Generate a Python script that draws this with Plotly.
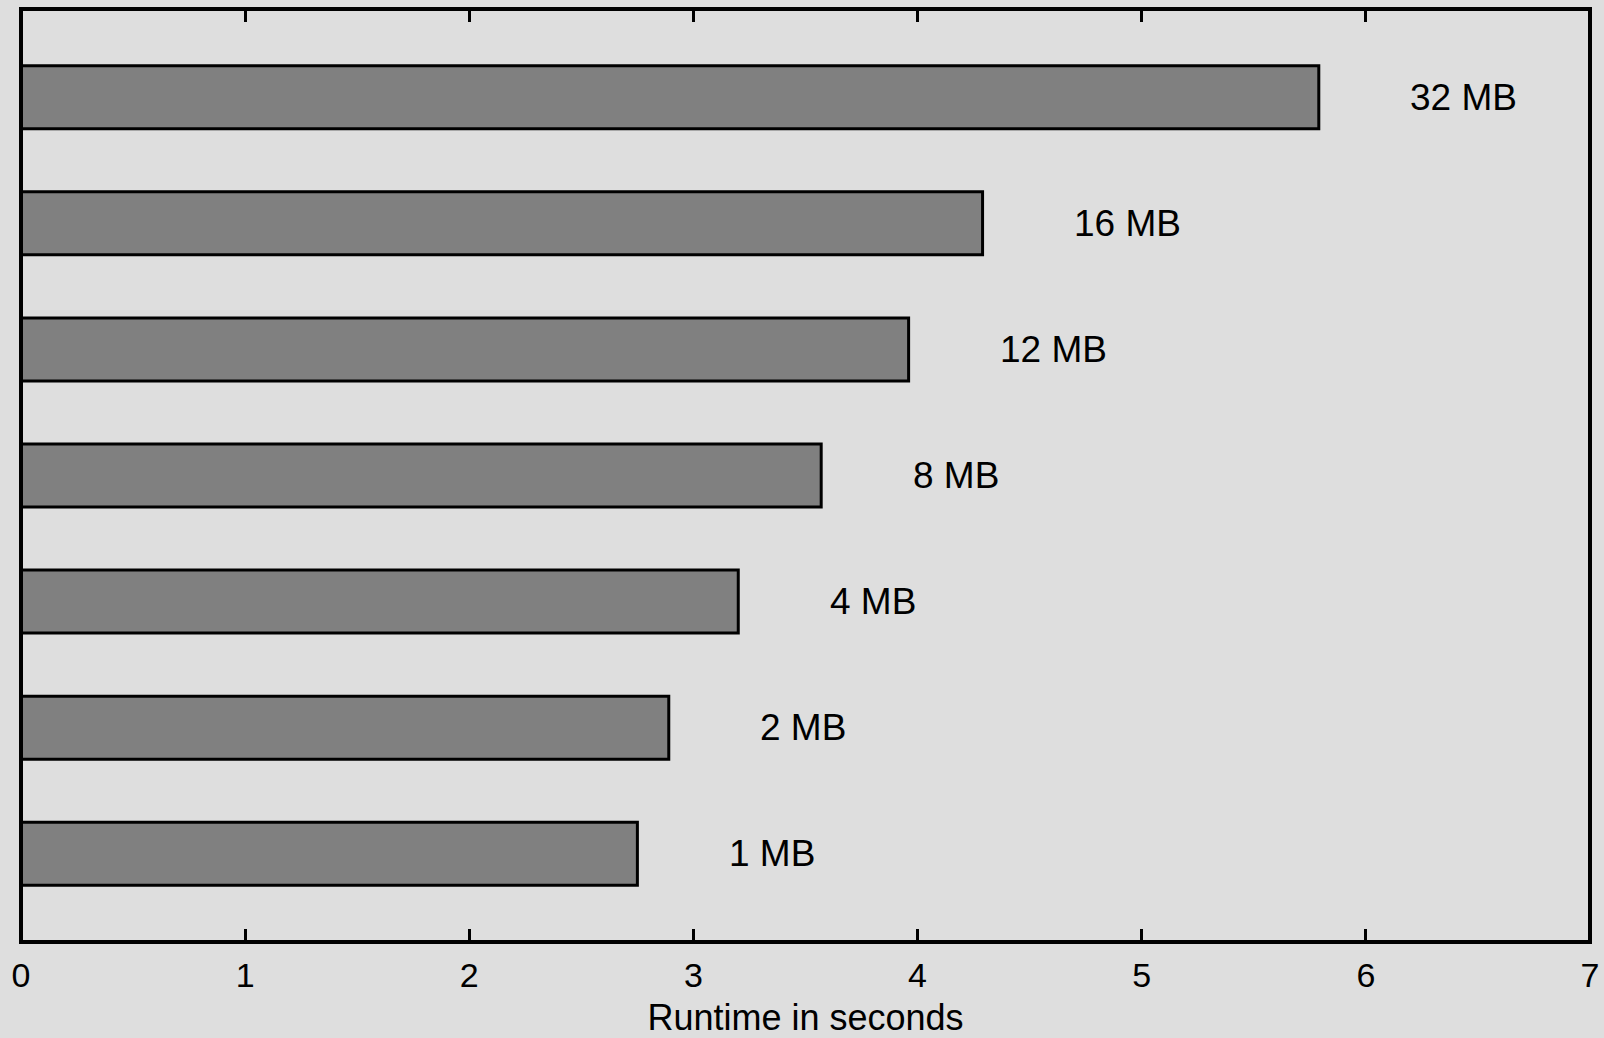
import plotly.graph_objects as go

# Cache sizes and measured runtimes
cache_sizes = ["1 MB", "2 MB", "4 MB", "8 MB", "12 MB", "16 MB", "32 MB"]
runtimes = [2.75, 2.89, 3.20, 3.57, 3.96, 4.29, 5.79]
x_ticks = [0, 1, 2, 3, 4, 5, 6, 7]

BG = "#dedede"
FONT = "Liberation Sans, Arial, sans-serif"

fig = go.Figure()
fig.add_trace(go.Bar(
    x=runtimes,
    y=cache_sizes,
    orientation="h",
    width=0.5,
    marker=dict(color="#808080", line=dict(color="black", width=3)),
    hoverinfo="x+y",
))

# value labels to the right of each bar
for size, t in zip(cache_sizes, runtimes):
    fig.add_annotation(
        x=t + 0.4, y=size, text=size, showarrow=False,
        xanchor="left", yanchor="middle",
        font=dict(family=FONT, size=37, color="black"),
    )

# axes box
fig.add_shape(type="rect", xref="paper", yref="paper", x0=0, x1=1, y0=0, y1=1,
              line=dict(color="black", width=4), layer="above")

fig.update_layout(
    width=1604, height=1038,
    margin=dict(l=21, r=14, t=9, b=96),
    paper_bgcolor=BG, plot_bgcolor=BG,
    showlegend=False,
    font=dict(family=FONT, color="black"),
    xaxis=dict(
        range=[0, 7], tickvals=x_ticks, ticktext=[str(v) for v in x_ticks],
        ticks="inside", ticklen=13, tickwidth=2.5, tickcolor="black",
        mirror="ticks", showline=False, showgrid=False, zeroline=False,
        automargin=False,
        ticklabelstandoff=10,
        tickfont=dict(family=FONT, size=34, color="black"),
        title=dict(text="Runtime in seconds", standoff=17,
                   font=dict(family=FONT, size=36, color="black")),
    ),
    yaxis=dict(
        type="category", categoryorder="array", categoryarray=cache_sizes,
        range=[-0.7, 6.7], showticklabels=False, ticks="",
        showgrid=False, zeroline=False, showline=False, automargin=False,
    ),
)

fig.write_html("out.html")
